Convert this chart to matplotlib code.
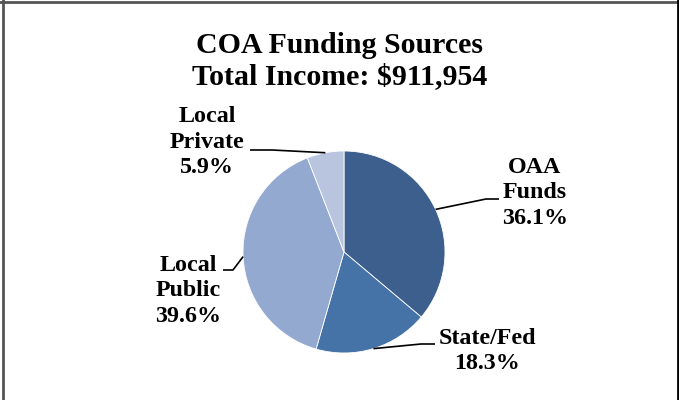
import numpy as np
import matplotlib
matplotlib.use("Agg")
import matplotlib.pyplot as plt
from matplotlib.lines import Line2D

# ---- data ----
categories = ["OAA\nFunds", "State/Fed", "Local\nPublic", "Local\nPrivate"]
shares = [36.1, 18.3, 39.6, 5.9]
colors = ["#3C5F8E", "#4572A7", "#94A9D0", "#B9C5DF"]
title_lines = ["COA Funding Sources", "Total Income: $911,954"]

W, H = 679, 400
fig = plt.figure(figsize=(W / 100, H / 100), dpi=100)
fig.patch.set_facecolor("white")

# frame
fig.add_artist(Line2D([2.5 / W, 2.5 / W], [0, 1], transform=fig.transFigure, color="#555555", lw=2.0))
fig.add_artist(Line2D([0, 1], [1 - 1.5 / H, 1 - 1.5 / H], transform=fig.transFigure, color="#555555", lw=2.0))
fig.add_artist(Line2D([677.5 / W, 677.5 / W], [0, 1], transform=fig.transFigure, color="#000000", lw=2.0))

# pie axes: center (344, 252) px, radius 101 px
cx, cy, r = 344, 252, 101
ax = fig.add_axes([(cx - r) / W, (H - cy - r) / H, 2 * r / W, 2 * r / H])

wedges, _ = ax.pie(shares, colors=colors, startangle=90, counterclock=False,
                   radius=1, center=(0, 0), frame=False,
                   wedgeprops=dict(edgecolor="white", linewidth=0.6))
ax.set_xlim(-1, 1)
ax.set_ylim(-1, 1)
ax.set_aspect("equal")
ax.axis("off")

def px2d(px, py):
    return ((px - cx) / r, (cy - py) / r)

# label layout (pixel positions): text center, text-side end of leader, elbow
layout = [
    ((535, 193), (499, 199), (486, 199)),
    ((487, 351), (435, 344), (421, 344)),
    ((188, 291), (223, 270), (233, 270)),
    ((207, 142), (250, 150), (272, 150)),
]

font = dict(family="Liberation Serif", weight="bold", size=17.3)
for w, lab, val, (tc, tend, elbow) in zip(wedges, categories, shares, layout):
    mid = np.deg2rad((w.theta1 + w.theta2) / 2)
    ex, ey = np.cos(mid), np.sin(mid)
    tx, ty = px2d(*tc)
    ax.text(tx, ty, f"{lab}\n{val:.1f}%", ha="center", va="center",
            multialignment="center", linespacing=1.3, clip_on=False, **font)
    p1 = px2d(*tend)
    p2 = px2d(*elbow)
    ax.add_line(Line2D([p1[0], p2[0], ex], [p1[1], p2[1], ey], color="black",
                       lw=1.2, clip_on=False, solid_capstyle="butt"))

fig.text(340 / W, 1 - 61 / H, "\n".join(title_lines), ha="center", va="center",
         family="Liberation Serif", weight="bold", size=21.5, linespacing=1.2)

fig.savefig("out.png", dpi=100)
